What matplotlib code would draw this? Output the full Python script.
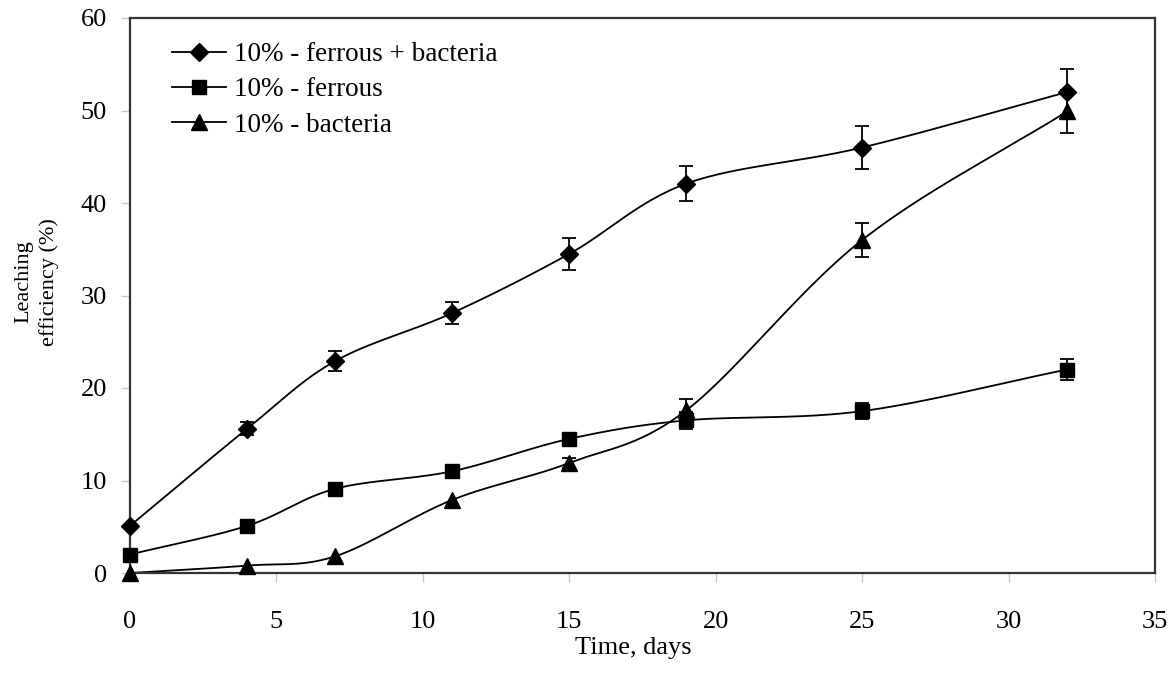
import numpy as np
import matplotlib
matplotlib.use("Agg")
import matplotlib.pyplot as plt
from matplotlib.lines import Line2D

days = [0, 4, 7, 11, 15, 19, 25, 32]
fb = [5.1, 15.6, 22.9, 28.1, 34.5, 42.1, 46.0, 52.0]
fb_err = [0.0, 0.7, 1.1, 1.2, 1.7, 1.9, 2.3, 2.5]
fe = [2.0, 5.1, 9.1, 11.0, 14.5, 16.5, 17.5, 22.0]
fe_err = [0.0, 0.0, 0.0, 0.0, 0.0, 0.9, 0.9, 1.1]
ba = [0.0, 0.8, 1.8, 7.9, 11.9, 17.6, 36.0, 49.9]
ba_err = [0.0, 0.0, 0.0, 0.0, 0.5, 1.2, 1.8, 2.3]
labels = ["10% - ferrous + bacteria", "10% - ferrous", "10% - bacteria"]

plt.rcParams['font.family'] = ['Liberation Serif', 'DejaVu Serif']


def smooth(x, y, n=30):
    x = np.asarray(x, float)
    y = np.asarray(y, float)
    px = np.concatenate([[2 * x[0] - x[1]], x, [2 * x[-1] - x[-2]]])
    py = np.concatenate([[2 * y[0] - y[1]], y, [2 * y[-1] - y[-2]]])
    xs, ys = [], []
    for i in range(1, len(px) - 2):
        t = np.linspace(0, 1, n)
        for arr, out in ((px, xs), (py, ys)):
            p0, p1, p2, p3 = arr[i - 1], arr[i], arr[i + 1], arr[i + 2]
            out.extend(0.5 * ((2 * p1) + (-p0 + p2) * t +
                              (2 * p0 - 5 * p1 + 4 * p2 - p3) * t ** 2 +
                              (-p0 + 3 * p1 - 3 * p2 + p3) * t ** 3))
    return np.array(xs), np.array(ys)


W, H = 1171, 688
fig = plt.figure(figsize=(W / 100, H / 100), dpi=100)
L, R, T, B = 130, 1155, 18, 573
ax = fig.add_axes([L / W, 1 - B / H, (R - L) / W, (B - T) / H])

series = [(fb, fb_err, 'D', 9.5), (fe, fe_err, 's', 10.5), (ba, ba_err, '^', 11.5)]
handles = []
for (vals, err, m, ms), lab in zip(series, labels):
    sx, sy = smooth(days, vals)
    ax.plot(sx, sy, color='black', lw=1.3, zorder=2, clip_on=False)
    e = np.array(err)
    mask = e > 0
    ax.errorbar(np.array(days)[mask], np.array(vals)[mask], yerr=e[mask], fmt='none',
                ecolor='black', elinewidth=1.3, capsize=5, capthick=1.3, zorder=3)
    ax.plot(days, vals, linestyle='none', marker=m, markersize=ms, color='black',
            zorder=4, clip_on=False)
    handles.append(Line2D([], [], color='black', lw=1.3, marker=m, markersize=ms))

ax.set_xlim(0, 35)
ax.set_ylim(0, 60)
ax.set_xticks(range(0, 36, 5))
ax.set_yticks(range(0, 61, 10))
ax.tick_params(axis='both', labelsize=19, direction='out', length=6.5, width=1,
               color='#c8c8c8')
ax.tick_params(axis='y', pad=10)
ax.tick_params(axis='x', pad=21)
for s in ax.spines.values():
    s.set_linewidth(1.6)
    s.set_color('#333333')

ax.set_xlabel("Time, days", fontsize=19, va='center')
ax.xaxis.set_label_coords((633 - L) / (R - L), (B - 648) / (B - T))
ax.set_ylabel("Leaching\nefficiency (%)", fontsize=16, linespacing=1.4, va='center')
ax.yaxis.set_label_coords((37 - L) / (R - L), (B - 282) / (B - T))

ax.legend(handles, labels, loc='upper left', bbox_to_anchor=((172 - L) / (R - L), (B - 42) / (B - T)),
          frameon=False, fontsize=19.5, handlelength=2.0, handletextpad=0.3,
          labelspacing=0.38, borderaxespad=0, borderpad=0)

fig.savefig("out.png", dpi=100)
